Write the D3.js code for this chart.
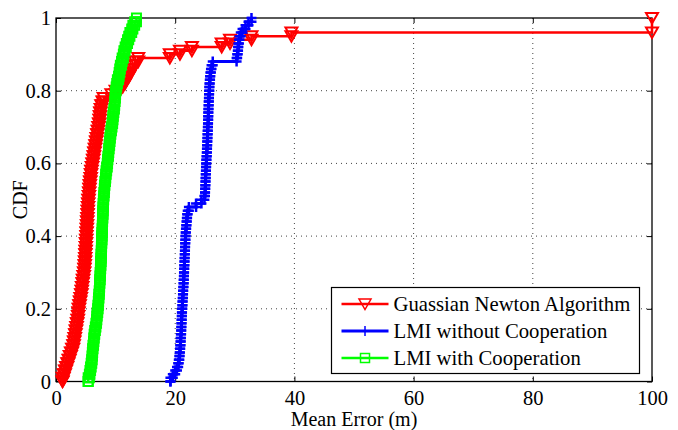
<!DOCTYPE html>
<html>
<head>
<meta charset="utf-8">
<script src="https://cdn.jsdelivr.net/npm/d3@7"></script>
<style>
  html, body { margin: 0; padding: 0; background: #fff; }
  svg { display: block; font-family: "Liberation Serif", "Times New Roman", serif; }
</style>
</head>
<body>
<div id="chart"></div>
<script>
// axis ticks
const xTicks = [0, 20, 40, 60, 80, 100];
const yTicks = [0, 0.2, 0.4, 0.6, 0.8, 1];

// mean error samples (m)
const gnErrors = [
  1.1, 1.3, 1.5, 1.7, 1.9, 2.1, 2.3, 2.5, 2.7, 2.9,
  3.0, 3.1, 3.2, 3.3, 3.4, 3.5, 3.6, 3.7, 3.75, 3.8,
  3.9, 4.0, 4.1, 4.2, 4.3, 4.35, 4.45, 4.5, 4.6, 4.7,
  4.75, 4.8, 4.85, 4.9, 4.92, 4.95, 5.0, 5.02, 5.05, 5.1,
  5.12, 5.15, 5.2, 5.22, 5.25, 5.3, 5.32, 5.35, 5.4, 5.42,
  5.5, 5.55, 5.6, 5.65, 5.7, 5.8, 5.85, 5.9, 6.0, 6.1,
  6.2, 6.3, 6.4, 6.5, 6.6, 6.7, 6.8, 6.9, 7.0, 7.1,
  7.2, 7.3, 7.35, 7.4, 7.5, 7.6, 7.8, 8.0, 9.3, 10.0,
  10.7, 11.2, 11.6, 11.9, 12.3, 12.6, 12.9, 13.3, 13.8, 19.1,
  20.8, 22.8, 27.8, 29.2, 32.8, 39.5, 100, 100, 100, 100
];
const lmiNoCoopErrors = [
  19.2, 19.6, 20.0, 20.3, 20.5, 20.6, 20.7, 20.75, 20.8, 20.85,
  20.9, 20.92, 20.95, 21.0, 21.02, 21.05, 21.07, 21.1, 21.12, 21.15,
  21.2, 21.22, 21.25, 21.3, 21.32, 21.35, 21.4, 21.42, 21.45, 21.47,
  21.5, 21.52, 21.55, 21.57, 21.6, 21.62, 21.65, 21.67, 21.7, 21.72,
  21.75, 21.8, 21.85, 21.9, 21.95, 22.0, 22.1, 22.3, 23.5, 24.4,
  24.9, 25.0, 25.02, 25.05, 25.07, 25.1, 25.12, 25.15, 25.17, 25.2,
  25.22, 25.25, 25.3, 25.32, 25.35, 25.37, 25.4, 25.42, 25.45, 25.47,
  25.5, 25.52, 25.54, 25.55, 25.57, 25.6, 25.62, 25.65, 25.67, 25.7,
  25.72, 25.75, 25.8, 25.85, 25.9, 26.0, 26.1, 26.3, 30.3, 30.4,
  30.5, 30.55, 30.6, 30.7, 30.8, 31.0, 31.3, 31.8, 32.3, 32.8
];
const lmiCoopErrors = [
  5.4, 5.6, 5.7, 5.8, 5.9, 6.0, 6.05, 6.1, 6.15, 6.2,
  6.3, 6.35, 6.4, 6.5, 6.6, 6.7, 6.8, 6.85, 6.9, 7.0,
  7.05, 7.1, 7.15, 7.2, 7.25, 7.3, 7.32, 7.35, 7.4, 7.42,
  7.45, 7.5, 7.52, 7.55, 7.57, 7.6, 7.62, 7.65, 7.67, 7.7,
  7.72, 7.75, 7.77, 7.8, 7.82, 7.85, 7.87, 7.9, 7.92, 7.95,
  8.0, 8.05, 8.1, 8.15, 8.2, 8.3, 8.35, 8.4, 8.5, 8.6,
  8.65, 8.7, 8.8, 8.85, 8.9, 9.0, 9.05, 9.1, 9.2, 9.3,
  9.4, 9.5, 9.55, 9.6, 9.7, 9.8, 9.85, 9.9, 9.95, 10.0,
  10.1, 10.2, 10.3, 10.5, 10.6, 10.7, 10.8, 11.0, 11.1, 11.3,
  11.4, 11.6, 11.8, 12.0, 12.2, 12.4, 12.7, 12.9, 13.2, 13.5
];

const seriesNames = ['Guassian Newton Algorithm', 'LMI without Cooperation', 'LMI with Cooperation'];
const seriesColors = ['#ff0000', '#0000ff', '#00ff00'];
const seriesMarkers = ['triangle', 'plus', 'square'];

const W = 678, H = 430;
const svg = d3.select('#chart').append('svg').attr('width', W).attr('height', H);

const x = d3.scaleLinear().domain([0, 100]).range([56, 652]);
const y = d3.scaleLinear().domain([0, 1]).range([381.5, 18]);

// grid
const grid = svg.append('g').attr('stroke', '#444').attr('stroke-width', 1).attr('stroke-dasharray', '1,4');
grid.selectAll('.gx').data(xTicks.slice(1, -1)).enter().append('line')
  .attr('x1', d => x(d)).attr('x2', d => x(d)).attr('y1', y(1)).attr('y2', y(0));
grid.selectAll('.gy').data(yTicks.slice(1, -1)).enter().append('line')
  .attr('y1', d => y(d)).attr('y2', d => y(d)).attr('x1', x(0)).attr('x2', x(100));

// axes (ticks point inward, like matlab)
function styleAxis(g) {
  g.select('.domain').remove();
  g.selectAll('.tick line').attr('stroke', '#000').attr('stroke-width', 1);
  g.selectAll('.tick text').attr('fill', '#000').style('font-size', '20.5px')
    .style('font-family', '"Liberation Serif", "Times New Roman", serif');
}
svg.append('g').attr('transform', `translate(0,${y(0)})`)
  .call(d3.axisBottom(x).tickValues(xTicks).tickSize(-5).tickPadding(9).tickFormat(d => d))
  .call(styleAxis);
svg.append('g').attr('transform', `translate(0,${y(1)})`)
  .call(d3.axisTop(x).tickValues(xTicks).tickSize(-5).tickFormat(''))
  .call(styleAxis);
svg.append('g').attr('transform', `translate(${x(0)},0)`)
  .call(d3.axisLeft(y).tickValues(yTicks).tickSize(-5).tickPadding(5).tickFormat(d => String(d)))
  .call(styleAxis);
svg.append('g').attr('transform', `translate(${x(100)},0)`)
  .call(d3.axisRight(y).tickValues(yTicks).tickSize(-5).tickFormat(''))
  .call(styleAxis);

svg.append('rect')
  .attr('x', x(0)).attr('y', y(1))
  .attr('width', x(100) - x(0)).attr('height', y(0) - y(1))
  .attr('fill', 'none').attr('stroke', '#000').attr('stroke-width', 1.3);

// labels
svg.append('text').attr('x', (x(0) + x(100)) / 2).attr('y', 426)
  .attr('text-anchor', 'middle').style('font-size', '20px').text('Mean Error (m)');
svg.append('text').attr('transform', `translate(27,${(y(0) + y(1)) / 2}) rotate(-90)`)
  .attr('text-anchor', 'middle').style('font-size', '20px').text('CDF');

// empirical cdf as stairs vertices
function ecdfStairs(values) {
  const sorted = values.slice().sort(d3.ascending);
  const n = sorted.length;
  const uniq = [];
  sorted.forEach((v, i) => {
    if (uniq.length && uniq[uniq.length - 1].x === v) uniq[uniq.length - 1].f = (i + 1) / n;
    else uniq.push({ x: v, f: (i + 1) / n });
  });
  const pts = [[uniq[0].x, 0]];
  let prev = 0;
  uniq.forEach(u => {
    pts.push([u.x, prev]);
    pts.push([u.x, u.f]);
    prev = u.f;
  });
  return pts;
}

function markerPath(type) {
  if (type === 'triangle') return 'M-6,-5L6,-5L0,5.5Z';
  if (type === 'plus') return 'M-5,0H5M0,-5V5';
  return 'M-4.5,-4.5H4.5V4.5H-4.5Z';
}

const line = d3.line().x(d => x(d[0])).y(d => y(d[1]));
const allErrors = [gnErrors, lmiNoCoopErrors, lmiCoopErrors];

allErrors.forEach((errs, i) => {
  const pts = ecdfStairs(errs);
  const g = svg.append('g');
  g.append('path').attr('d', line(pts))
    .attr('fill', 'none').attr('stroke', seriesColors[i]).attr('stroke-width', i === 1 ? 3 : 2.5);
  g.selectAll('path.m').data(pts).enter().append('path').attr('class', 'm')
    .attr('transform', d => `translate(${x(d[0])},${y(d[1])})`)
    .attr('d', markerPath(seriesMarkers[i]))
    .attr('fill', 'none').attr('stroke', seriesColors[i]).attr('stroke-width', i === 1 ? 2.5 : 2);
});

// legend
const leg = svg.append('g').attr('transform', 'translate(331.5,287.5)');
leg.append('rect').attr('width', 308).attr('height', 86)
  .attr('fill', '#fff').attr('stroke', '#000').attr('stroke-width', 1.2);
seriesNames.forEach((name, i) => {
  const row = leg.append('g').attr('transform', `translate(0,${16.5 + i * 27})`);
  row.append('line').attr('x1', 10).attr('x2', 57).attr('y1', 0).attr('y2', 0)
    .attr('stroke', seriesColors[i]).attr('stroke-width', i === 1 ? 3 : 2.5);
  row.append('path').attr('transform', 'translate(33.5,0)').attr('d', markerPath(seriesMarkers[i]))
    .attr('fill', 'none').attr('stroke', seriesColors[i]).attr('stroke-width', 1.5);
  row.append('text').attr('x', 62).attr('y', 7).style('font-size', '20.7px').text(name);
});
</script>
</body>
</html>
